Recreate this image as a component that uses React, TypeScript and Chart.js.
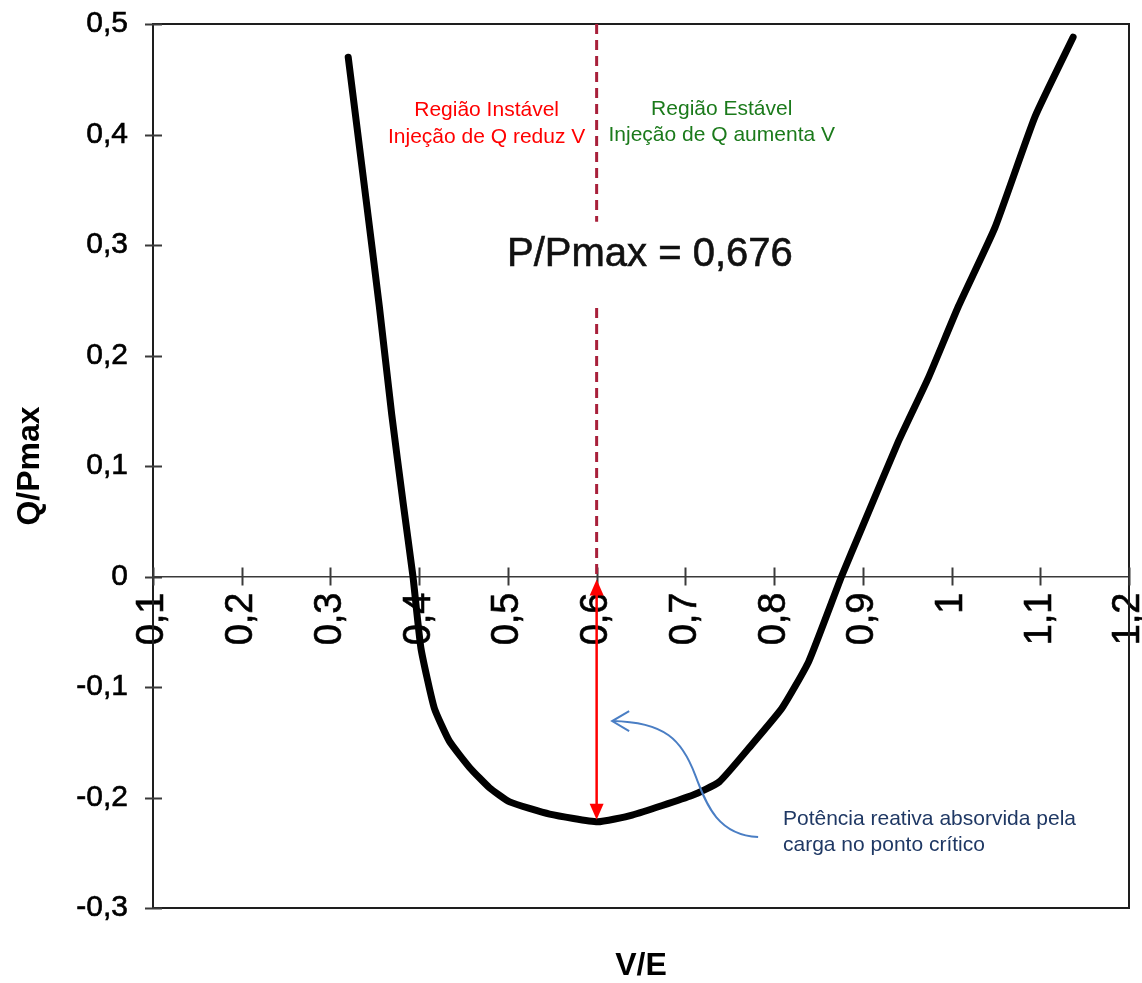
import React, { useEffect, useRef } from 'react';
import { Chart, registerables } from 'chart.js';

Chart.register(...registerables);

// V/E (x) and Q/Pmax (y) values
const vE = [0.32, 0.34, 0.355, 0.369, 0.382, 0.393, 0.402, 0.417, 0.434, 0.457, 0.479, 0.502, 0.547, 0.601, 0.64, 0.708, 0.738, 0.775, 0.809, 0.839, 0.876, 0.899, 0.94, 0.974, 1.008, 1.049, 1.094, 1.137];
const qP = [0.47, 0.342, 0.245, 0.147, 0.066, 0, -0.065, -0.119, -0.149, -0.173, -0.191, -0.204, -0.215, -0.222, -0.216, -0.198, -0.186, -0.152, -0.119, -0.077, 0, 0.044, 0.122, 0.18, 0.245, 0.316, 0.416, 0.488];

const xMin = 0.1;
const xMax = 1.2;
const yMin = -0.3;
const yMax = 0.5;
const tickStep = 0.1;

const criticalV = 0.6;
const criticalQ = -0.222;

const unstableLines = ['Região Instável', 'Injeção de Q reduz V'];
const stableLines = ['Região Estável', 'Injeção de Q aumenta V'];
const loadLabel = 'P/Pmax = 0,676';
const noteLines = ['Potência reativa absorvida pela', 'carga no ponto crítico'];
const xTitle = 'V/E';
const yTitle = 'Q/Pmax';

const FONT = "'Liberation Sans', Arial, sans-serif";

const fmt = (v: number) => {
  const r = Math.round(v * 10) / 10;
  return String(r === 0 ? 0 : r).replace('.', ',');
};

const decorPlugin = {
  id: 'decor',
  beforeDatasetsDraw(chart: any) {
    const { ctx, chartArea: a, scales } = chart;
    const x = scales.x;
    const y = scales.y;
    ctx.save();
    // frame
    ctx.strokeStyle = '#1e1e1e';
    ctx.lineWidth = 2;
    ctx.strokeRect(a.left, a.top, a.right - a.left, a.bottom - a.top);
    // crossing tick marks
    ctx.strokeStyle = '#3a3a3a';
    ctx.lineWidth = 2;
    y.ticks.forEach((t: any) => {
      const yy = Math.round(y.getPixelForValue(t.value)) + 0.5;
      ctx.beginPath();
      ctx.moveTo(a.left - 8, yy);
      ctx.lineTo(a.left + 9, yy);
      ctx.stroke();
    });
    const y0 = y.getPixelForValue(0);
    x.ticks.forEach((t: any) => {
      const xx = Math.round(x.getPixelForValue(t.value)) + 0.5;
      ctx.beginPath();
      ctx.moveTo(xx, y0 - 9);
      ctx.lineTo(xx, y0 + 9);
      ctx.stroke();
    });
    ctx.restore();
  },
  afterDatasetsDraw(chart: any) {
    const { ctx, chartArea: a, scales } = chart;
    const x = scales.x;
    const y = scales.y;
    const px = (v: number) => x.getPixelForValue(v);
    const py = (v: number) => y.getPixelForValue(v);
    ctx.save();

    // dashed critical line
    const xc = px(criticalV);
    ctx.strokeStyle = '#a8203a';
    ctx.lineWidth = 3;
    ctx.setLineDash([10, 6]);
    ctx.beginPath();
    ctx.moveTo(xc, py(yMax));
    ctx.lineTo(xc, py(0.321));
    ctx.moveTo(xc, py(0.243));
    ctx.lineTo(xc, py(0));
    ctx.stroke();
    ctx.setLineDash([]);

    // region texts
    ctx.textAlign = 'center';
    ctx.textBaseline = 'middle';
    ctx.font = `21px ${FONT}`;
    ctx.fillStyle = '#ff0000';
    ctx.fillText(unstableLines[0], px(0.476), py(0.422));
    ctx.fillText(unstableLines[1], px(0.476), py(0.398));
    ctx.fillStyle = '#1b7a1b';
    ctx.fillText(stableLines[0], px(0.741), py(0.423));
    ctx.fillText(stableLines[1], px(0.741), py(0.399));

    ctx.font = `40px ${FONT}`;
    ctx.fillStyle = '#111';
    ctx.strokeStyle = '#111';
    ctx.lineWidth = 0.6;
    ctx.fillText(loadLabel, px(0.66), py(0.291));
    ctx.strokeText(loadLabel, px(0.66), py(0.291));

    // red double arrow
    const top = py(0) + 3;
    const bot = py(criticalQ) - 2;
    const head = 16;
    const hw = 7;
    ctx.strokeStyle = '#ff0000';
    ctx.fillStyle = '#ff0000';
    ctx.lineWidth = 2.5;
    ctx.beginPath();
    ctx.moveTo(xc, top + head - 2);
    ctx.lineTo(xc, bot - head + 2);
    ctx.stroke();
    ctx.beginPath();
    ctx.moveTo(xc, top);
    ctx.lineTo(xc - hw, top + head);
    ctx.lineTo(xc + hw, top + head);
    ctx.closePath();
    ctx.fill();
    ctx.beginPath();
    ctx.moveTo(xc, bot);
    ctx.lineTo(xc - hw, bot - head);
    ctx.lineTo(xc + hw, bot - head);
    ctx.closePath();
    ctx.fill();

    // blue curved pointer
    ctx.strokeStyle = '#4a7ec4';
    ctx.lineWidth = 2;
    ctx.beginPath();
    ctx.moveTo(px(0.782), py(-0.2357));
    ctx.bezierCurveTo(px(0.7335), py(-0.2339), px(0.7222), py(-0.2022), px(0.711), py(-0.1796));
    ctx.bezierCurveTo(px(0.6963), py(-0.148), px(0.6772), py(-0.1317), px(0.6175), py(-0.1308));
    ctx.stroke();
    const tipX = px(0.6175);
    const tipY = py(-0.1308);
    ctx.beginPath();
    ctx.moveTo(tipX + 17, tipY - 10);
    ctx.lineTo(tipX, tipY);
    ctx.lineTo(tipX + 17, tipY + 10);
    ctx.stroke();

    // note text
    ctx.textAlign = 'left';
    ctx.font = `21px ${FONT}`;
    ctx.fillStyle = '#1f3864';
    ctx.fillText(noteLines[0], px(0.81), py(-0.22));
    ctx.fillText(noteLines[1], px(0.81), py(-0.243));

    // axis titles
    ctx.fillStyle = '#000';
    ctx.font = `bold 32px ${FONT}`;
    ctx.textAlign = 'center';
    ctx.fillText(xTitle, (a.left + a.right) / 2, a.bottom + 58);
    ctx.save();
    ctx.translate(30, (a.top + a.bottom) / 2);
    ctx.rotate(-Math.PI / 2);
    ctx.fillText(yTitle, 0, 0);
    ctx.restore();

    ctx.restore();
  },
};

export default function App() {
  const ref = useRef<HTMLCanvasElement>(null);
  useEffect(() => {
    const points = vE.map((v, i) => ({ x: v, y: qP[i] }));
    const chart = new Chart(ref.current as HTMLCanvasElement, {
      type: 'scatter',
      data: {
        datasets: [
          {
            data: points,
            showLine: true,
            borderColor: '#000',
            backgroundColor: '#000',
            borderWidth: 7,
            pointRadius: 0,
            tension: 0.15,
            borderCapStyle: 'round',
            borderJoinStyle: 'round',
          } as any,
        ],
      },
      options: {
        animation: false,
        responsive: false,
        devicePixelRatio: 1,
        layout: { padding: { left: 0, top: 24, right: 13, bottom: 75 } },
        plugins: { legend: { display: false }, tooltip: { enabled: false } },
        scales: {
          x: {
            type: 'linear',
            position: { y: 0 } as any,
            min: xMin,
            max: xMax,
            grid: { display: false, drawTicks: false },
            border: { display: true, color: '#3a3a3a', width: 1.5 },
            ticks: {
              stepSize: tickStep,
              autoSkip: false,
              minRotation: 90,
              maxRotation: 90,
              padding: 16,
              color: '#000',
              textStrokeColor: '#000',
              textStrokeWidth: 0.6,
              font: { family: FONT, size: 38 },
              callback: (v: any) => fmt(Number(v)),
            } as any,
            afterFit: (s: any) => {
              s.paddingLeft = 0;
              s.paddingRight = 0;
              s.paddingTop = 0;
              s.paddingBottom = 0;
            },
          },
          y: {
            type: 'linear',
            position: 'left',
            min: yMin,
            max: yMax,
            grid: { display: false, drawTicks: false },
            border: { display: true, color: '#1e1e1e', width: 2 },
            ticks: {
              stepSize: tickStep,
              padding: 25,
              color: '#000',
              textStrokeColor: '#000',
              textStrokeWidth: 0.6,
              font: { family: FONT, size: 30 },
              callback: (v: any) => fmt(Number(v)),
            } as any,
            afterFit: (s: any) => {
              s.width = 153;
              s.paddingTop = 0;
              s.paddingBottom = 0;
            },
          },
        },
      },
      plugins: [decorPlugin],
    });
    return () => chart.destroy();
  }, []);
  return (
    <div style={{ position: 'fixed', left: 0, top: 0, width: 1142, height: 983, background: '#fff' }}>
      <canvas ref={ref} width={1142} height={983} style={{ display: 'block', width: 1142, height: 983 }} />
    </div>
  );
}
